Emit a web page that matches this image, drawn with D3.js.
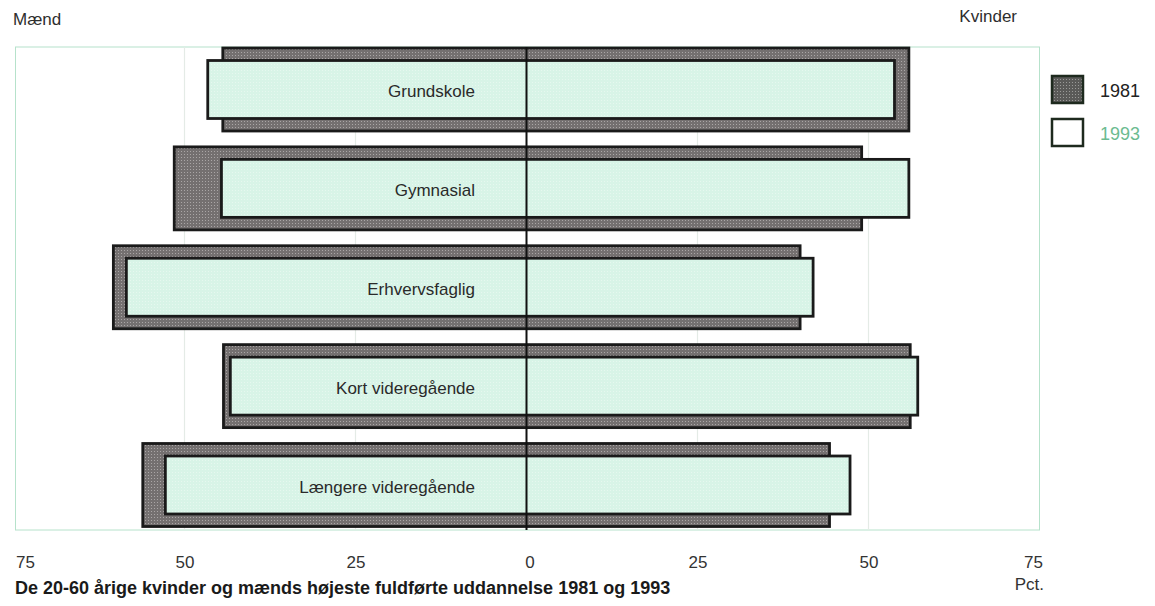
<!DOCTYPE html>
<html><head><meta charset="utf-8">
<script src="https://cdn.jsdelivr.net/npm/d3@7"></script>
<style>
html,body{margin:0;padding:0;background:#fff;}
svg{display:block;font-family:"Liberation Sans",Arial,sans-serif;}
</style></head>
<body>
<svg id="chart" width="1155" height="606"></svg>
<script>
// ---- data ----
const categories = ["Grundskole","Gymnasial","Erhvervsfaglig","Kort videregående","Længere videregående"];
const men1981   = [44.4, 51.5, 60.4, 44.3, 56.1];
const women1981 = [55.9, 49.0, 40.0, 56.1, 44.3];
const men1993   = [46.6, 44.6, 58.5, 43.3, 52.8];
const women1993 = [53.8, 55.9, 41.9, 57.2, 47.3];
const tickValues = [-75,-50,-25,0,25,50,75];
const gridValues = [-50,-25,25,50];
const seriesNames = ["1981","1993"];

const svg = d3.select("#chart");
const defs = svg.append("defs");
const pd = defs.append("pattern").attr("id","pDark").attr("patternUnits","userSpaceOnUse").attr("width",3).attr("height",3);
pd.append("rect").attr("width",3).attr("height",3).attr("fill","#747070");
pd.append("rect").attr("x",1).attr("y",1).attr("width",1).attr("height",1).attr("fill","#aaa6a6");
const pl = defs.append("pattern").attr("id","pLeg").attr("patternUnits","userSpaceOnUse").attr("width",3).attr("height",3);
pl.append("rect").attr("width",3).attr("height",3).attr("fill","#5a5a58");
pl.append("rect").attr("x",1).attr("y",1).attr("width",1).attr("height",1).attr("fill","#9a9a98");
const pg = defs.append("pattern").attr("id","pGreen").attr("patternUnits","userSpaceOnUse").attr("width",3).attr("height",3);
pg.append("rect").attr("width",3).attr("height",3).attr("fill","#d8f4e7");
pg.append("rect").attr("x",1).attr("y",1).attr("width",1).attr("height",1).attr("fill","#e6f8ef");

const x = d3.scaleLinear().domain([-75,75]).range([13.5,1039.5]);
const y = d3.scalePoint().domain(categories).range([89.5,485]);
const plotTop = 47, plotBottom = 530;
const hDark = 83, hGreen = 58;

// plot frame
svg.append("rect").attr("x",x(-75)+2).attr("y",plotTop).attr("width",x(75)-x(-75)-2).attr("height",plotBottom-plotTop)
  .attr("fill","none").attr("stroke","#b6e2cb").attr("stroke-width",1);

// grid
svg.append("g").selectAll("line").data(gridValues).join("line")
  .attr("x1",d=>x(d)).attr("x2",d=>x(d)).attr("y1",plotTop).attr("y2",plotBottom)
  .attr("stroke","#e4ebe6").attr("stroke-width",1.2);

const rows = categories.map((c,i)=>({c, m81:men1981[i], w81:women1981[i], m93:men1993[i], w93:women1993[i]}));

// 1981 bars
svg.append("g").selectAll("rect").data(rows).join("rect")
  .attr("x",d=>x(-d.m81)).attr("width",d=>x(d.w81)-x(-d.m81))
  .attr("y",d=>y(d.c)-hDark/2).attr("height",hDark)
  .attr("fill","url(#pDark)").attr("stroke","#1a1a1a").attr("stroke-width",2.8);

// 1993 bars
svg.append("g").selectAll("rect").data(rows).join("rect")
  .attr("x",d=>x(-d.m93)).attr("width",d=>x(d.w93)-x(-d.m93))
  .attr("y",d=>y(d.c)-hGreen/2).attr("height",hGreen)
  .attr("fill","url(#pGreen)").attr("stroke","#1a1a1a").attr("stroke-width",2.8);

// center line
svg.append("line").attr("x1",x(0)).attr("x2",x(0)).attr("y1",plotTop).attr("y2",plotBottom)
  .attr("stroke","#111").attr("stroke-width",2);

// category labels
svg.append("g").selectAll("text").data(rows).join("text")
  .attr("x",475).attr("y",d=>y(d.c)+7.5).attr("text-anchor","end")
  .attr("font-size",17).attr("fill","#2a2a2a").text(d=>d.c);

// axis
const axis = d3.axisBottom(x).tickValues(tickValues).tickSize(0).tickFormat(d=>Math.abs(d));
const ag = svg.append("g").attr("transform",`translate(0,${plotBottom})`).call(axis);
ag.select(".domain").remove();
ag.selectAll("text").attr("font-size",17).attr("fill","#333").attr("dy",0).attr("y",38)
  .attr("font-family","Liberation Sans, Arial, sans-serif");
ag.selectAll(".tick").filter(d=>d===-75).select("text").attr("text-anchor","start").attr("x",2);
ag.selectAll(".tick").filter(d=>d===75).select("text").attr("text-anchor","end").attr("x",3);
ag.selectAll(".tick").filter(d=>d===0).select("text").attr("x",3);

// side titles
svg.append("text").attr("x",13).attr("y",25).attr("font-size",17).attr("fill","#2e2e2e").text("Mænd");
svg.append("text").attr("x",1017).attr("y",22).attr("text-anchor","end").attr("font-size",17).attr("fill","#2e2e2e").text("Kvinder");
svg.append("text").attr("x",1044).attr("y",590).attr("text-anchor","end").attr("font-size",17).attr("fill","#333").text("Pct.");

// title
svg.append("text").attr("x",15).attr("y",594).attr("font-size",18).attr("font-weight","bold").attr("fill","#1a1a1a")
  .text("De 20-60 årige kvinder og mænds højeste fuldførte uddannelse 1981 og 1993");

// legend
const leg = svg.append("g");
const legendFill = ["url(#pLeg)","#ffffff"];
const legendText = ["#222","#6cbb90"];
seriesNames.forEach((s,i)=>{
  const ly = 76 + i*43;
  leg.append("rect").attr("x",1052).attr("y",ly).attr("width",31).attr("height",27)
    .attr("fill",legendFill[i]).attr("stroke","#1e2a1e").attr("stroke-width",2.5);
  leg.append("text").attr("x",1100).attr("y",ly+21).attr("font-size",18).attr("fill",legendText[i]).text(s);
});
</script>
</body></html>
